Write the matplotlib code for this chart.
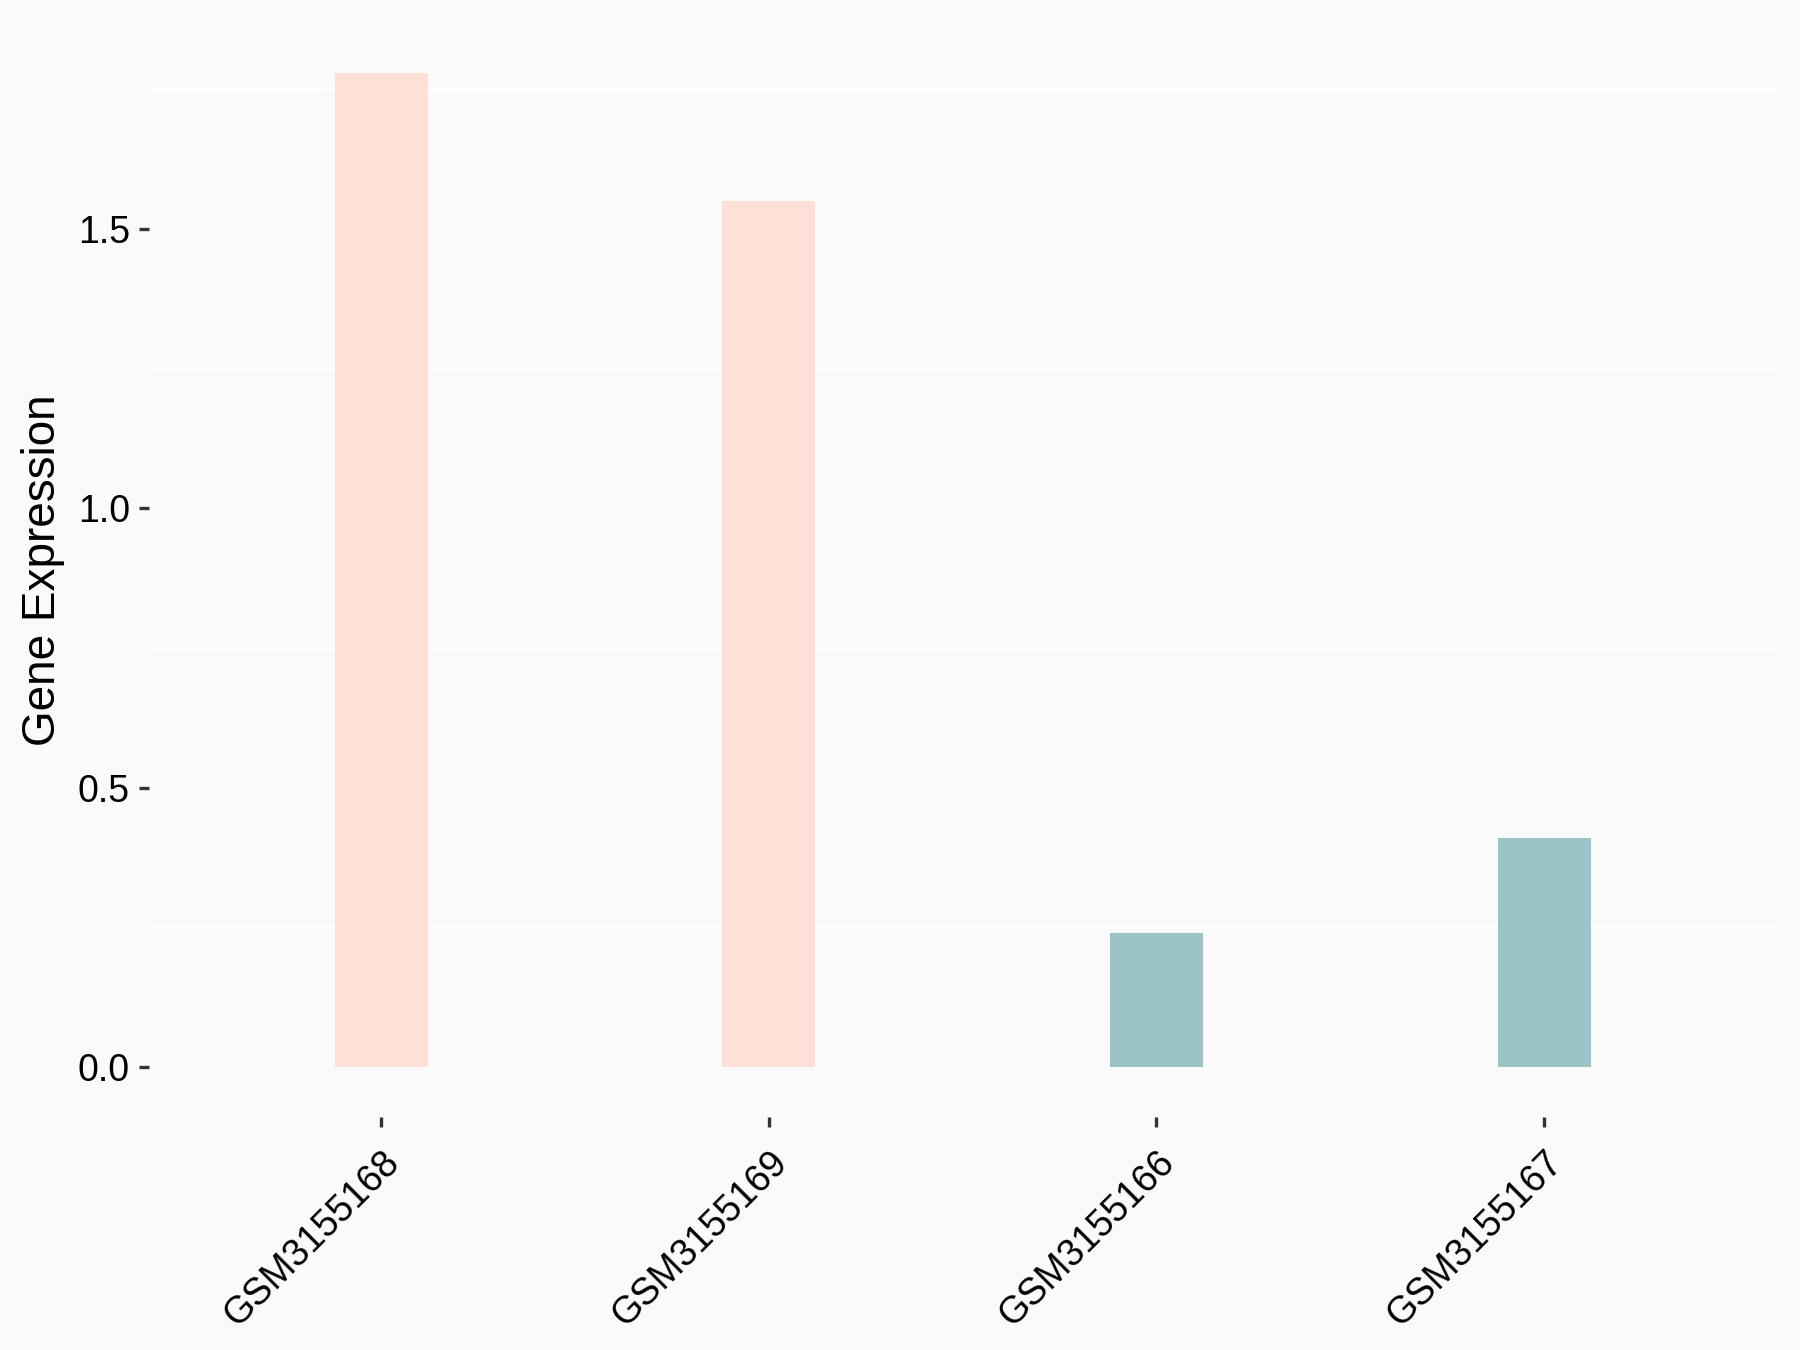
import matplotlib
matplotlib.use("Agg")
import matplotlib.pyplot as plt

# data
samples = ["GSM3155168", "GSM3155169", "GSM3155166", "GSM3155167"]
expression = [1.779, 1.549, 0.240, 0.410]
groups = ["high", "high", "low", "low"]
group_colors = {"high": "#FDE0D6", "low": "#9CC4C8"}

plt.rcParams["font.family"] = ["Liberation Sans", "DejaVu Sans"]

fig = plt.figure(figsize=(12, 9), dpi=150)
fig.patch.set_facecolor("#FAFAFA")
ax = fig.add_axes([0.0826, 0.1726, 0.9044, 0.8104])
ax.set_facecolor("#FAFAFA")

x = list(range(len(samples)))
ax.bar(x, expression, width=0.24, color=[group_colors[g] for g in groups], zorder=2)

# ggplot-like expansion
ymax = max(expression)
ax.set_ylim(-0.05 * ymax, ymax * 1.05)
ax.set_xlim(-0.6, len(samples) - 1 + 0.6)

ax.set_yticks([0.0, 0.5, 1.0, 1.5])
ax.set_yticklabels(["0.0", "0.5", "1.0", "1.5"])
ax.set_yticks([0.25, 0.75, 1.25, 1.75], minor=True)
ax.grid(which="minor", axis="y", color="white", lw=1.5, zorder=0)
ax.grid(which="major", visible=False)
ax.tick_params(axis="y", which="minor", length=0)

ax.set_xticks(x)
ax.set_xticklabels(samples, rotation=45, ha="right", va="top", rotation_mode="anchor")
ax.tick_params(axis="both", which="major", length=5, width=1.6, color="#333333",
               labelsize=18, labelcolor="black", pad=4)
ax.tick_params(axis="x", which="major", pad=8)

for s in ax.spines.values():
    s.set_visible(False)

ax.set_ylabel("Gene Expression", fontsize=22, labelpad=6)

fig.savefig("out.png", dpi=150, facecolor=fig.get_facecolor())
